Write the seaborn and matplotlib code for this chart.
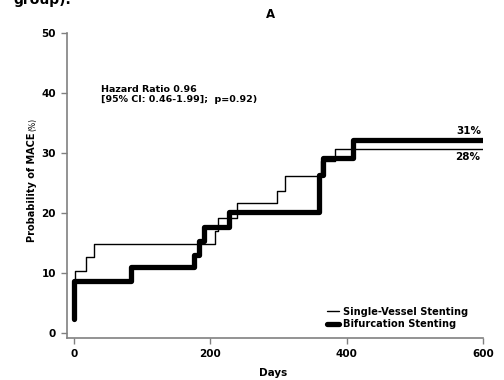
import matplotlib
matplotlib.use("Agg")
import matplotlib.pyplot as plt
import seaborn as sns
import pandas as pd

# Kaplan-Meier style cumulative incidence of MACE (%), by follow-up day
single_days = [0, 2, 18, 30, 207, 211, 239, 298, 310, 362, 383, 600]
single_prob = [8.5, 10.4, 12.7, 14.9, 17.0, 19.1, 21.6, 23.7, 26.2, 28.6, 30.6, 30.6]

bifurc_days = [0, 0, 83, 176, 184, 190, 228, 359, 365, 409, 600]
bifurc_prob = [2.4, 8.7, 11.0, 13.0, 15.3, 17.7, 20.2, 26.3, 29.2, 32.2, 32.2]

groups = ["Single-Vessel Stenting", "Bifurcation Stenting"]
end_labels = ["28%", "31%"]
x_ticks = [0, 200, 400, 600]
y_ticks = [0, 10, 20, 30, 40, 50]

df = pd.concat([
    pd.DataFrame({"Days": single_days, "Prob": single_prob, "Group": groups[0]}),
    pd.DataFrame({"Days": bifurc_days, "Prob": bifurc_prob, "Group": groups[1]}),
], ignore_index=True)

sns.set_theme(style="white")
plt.rcParams["font.family"] = ["DejaVu Sans"]
plt.rcParams["text.color"] = "black"
plt.rcParams["xtick.color"] = "black"
plt.rcParams["ytick.color"] = "black"

W, H = 504, 380
fig = plt.figure(figsize=(W / 100, H / 100), dpi=100)
ax = fig.add_axes([67 / W, (H - 338) / H, (483 - 67) / W, (338 - 33) / H])

sns.lineplot(data=df[df.Group == groups[0]], x="Days", y="Prob", ax=ax,
             color="black", linewidth=1.0, drawstyle="steps-post",
             estimator=None, sort=False, label=groups[0])
sns.lineplot(data=df[df.Group == groups[1]], x="Days", y="Prob", ax=ax,
             color="black", linewidth=3.8, drawstyle="steps-post",
             estimator=None, sort=False, label=groups[1],
             solid_capstyle="round")

ax.set_xlim(-10.3, 600)
ax.set_ylim(-0.83, 50)
ax.set_xticks(x_ticks)
ax.set_yticks(y_ticks)
ax.set_xlabel("")
ax.set_ylabel("")
for lab in ax.get_xticklabels() + ax.get_yticklabels():
    lab.set_fontweight("bold")
    lab.set_fontsize(7.5)
    lab.set_color("black")
ax.tick_params(axis="both", which="major", length=4, width=1, color="#808080",
               bottom=True, left=True, pad=4)
for side in ["top", "right"]:
    ax.spines[side].set_visible(False)
for side in ["left", "bottom"]:
    ax.spines[side].set_color("#808080")
    ax.spines[side].set_linewidth(1.2)

# end-of-follow-up labels
ax.text(598, 33.6, end_labels[1], ha="right", va="center", fontsize=7.5, fontweight="bold")
ax.text(596, 29.3, end_labels[0], ha="right", va="center", fontsize=7.5, fontweight="bold")

# hazard ratio annotation
ax.text(39, 39.7, "Hazard Ratio 0.96\n[95% CI: 0.46-1.99];  p=0.92)", ha="left", va="center",
        fontsize=6.8, fontweight="bold", linespacing=1.15)

leg = ax.legend(loc="lower right", bbox_to_anchor=(0.985, 0.0), frameon=False,
                handlelength=1.2, handletextpad=0.4, labelspacing=0.25,
                prop={"weight": "bold", "size": 7.1})

# titles and axis labels
fig.text(271 / W, 1 - 15 / H, "A", ha="center", va="center", fontsize=8.5, fontweight="bold")
fig.text(273 / W, 1 - 373 / H, "Days", ha="center", va="center", fontsize=7.5, fontweight="bold")
fig.text(32 / W, 1 - 242 / H, "Probability of MACE", rotation=90, ha="center", va="bottom",
         fontsize=7.0, fontweight="bold")
fig.text(33 / W, 1 - 131 / H, "(%)", rotation=90, ha="center", va="bottom", fontsize=5.5)

# caption fragment running in from above
fig.text(13 / W, 1 - 4 / H, "group).", ha="left", va="baseline", fontsize=10, fontweight="bold")

fig.savefig("out.png", dpi=100, facecolor="white")
